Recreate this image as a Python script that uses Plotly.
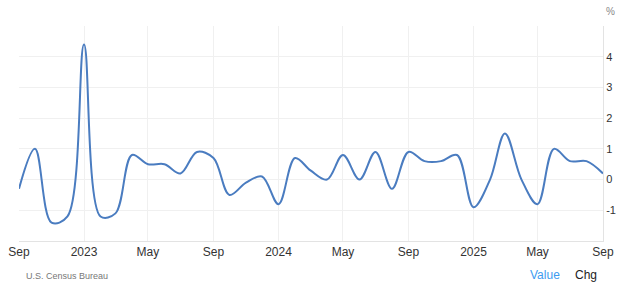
import plotly.graph_objects as go
import pandas as pd

months = pd.date_range("2022-09-01", "2025-09-01", freq="MS")
values = [-0.3, 1.0, -1.4, -1.2, 4.4, -1.2, -1.1, 0.8, 0.5, 0.5, 0.2, 0.9, 0.7,
          -0.5, -0.1, 0.1, -0.8, 0.7, 0.3, 0.0, 0.8, 0.0, 0.9, -0.3, 0.9, 0.6,
          0.6, 0.8, -0.9, 0.0, 1.5, 0.0, -0.8, 1.0, 0.6, 0.6, 0.2]

tick_dates = ["2022-09-01", "2023-01-01", "2023-05-01", "2023-09-01", "2024-01-01",
              "2024-05-01", "2024-09-01", "2025-01-01", "2025-05-01", "2025-09-01"]
tick_labels = ["Sep", "2023", "May", "Sep", "2024", "May", "Sep", "2025", "May", "Sep"]
y_vals = [-2, -1, 0, 1, 2, 3, 4, 5]
y_labels = ["", "-1", "0", "1", "2", "3", "4", ""]

L, R, T, B = 19, 21, 26, 48
W, H = 624, 289
plot_w = W - L - R
plot_h = H - T - B

def px_x(px):
    return (px - L) / plot_w

def px_y(py):
    return (H - B - py) / plot_h

fig = go.Figure()
fig.add_trace(go.Scatter(
    x=months, y=values, mode="lines",
    line=dict(color="#4a7cc0", width=2, shape="spline", smoothing=1.0),
    hoverinfo="skip",
))

fig.update_layout(
    width=W, height=H,
    margin=dict(l=L, r=R, t=T, b=B),
    paper_bgcolor="white", plot_bgcolor="white",
    showlegend=False,
    font=dict(family="Liberation Sans, Arial, sans-serif", size=11, color="#333333"),
    xaxis=dict(
        range=[months[0], months[-1]],
        tickvals=tick_dates, ticktext=tick_labels,
        showgrid=True, gridcolor="#f0f0f0", gridwidth=1,
        showline=True, linecolor="#e3e3e3", linewidth=1,
        ticks="", zeroline=False, automargin=False,
        tickfont=dict(size=12, color="#333333"),
    ),
    yaxis=dict(
        side="right", range=[-2, 5],
        tickvals=y_vals, ticktext=y_labels,
        showgrid=True, gridcolor="#f0f0f0", gridwidth=1,
        showline=True, linecolor="#e3e3e3", linewidth=1,
        zeroline=False, ticks="", automargin=False,
        tickfont=dict(size=11, color="#333333"),
    ),
    annotations=[
        dict(text="%", x=px_x(604), xref="paper", xanchor="left",
             y=px_y(12), yref="paper", yanchor="middle", showarrow=False,
             font=dict(size=10, color="#888888")),
        dict(text="U.S. Census Bureau", x=px_x(24), xref="paper", xanchor="left",
             y=px_y(276), yref="paper", yanchor="middle", showarrow=False,
             font=dict(size=9, color="#777777")),
        dict(text="Value", x=px_x(528), xref="paper", xanchor="left",
             y=px_y(275), yref="paper", yanchor="middle", showarrow=False,
             font=dict(size=12, color="#3d9bf0")),
        dict(text="Chg", x=px_x(573), xref="paper", xanchor="left",
             y=px_y(275), yref="paper", yanchor="middle", showarrow=False,
             font=dict(size=12, color="#222222")),
    ],
)

fig.write_html("out.html")
